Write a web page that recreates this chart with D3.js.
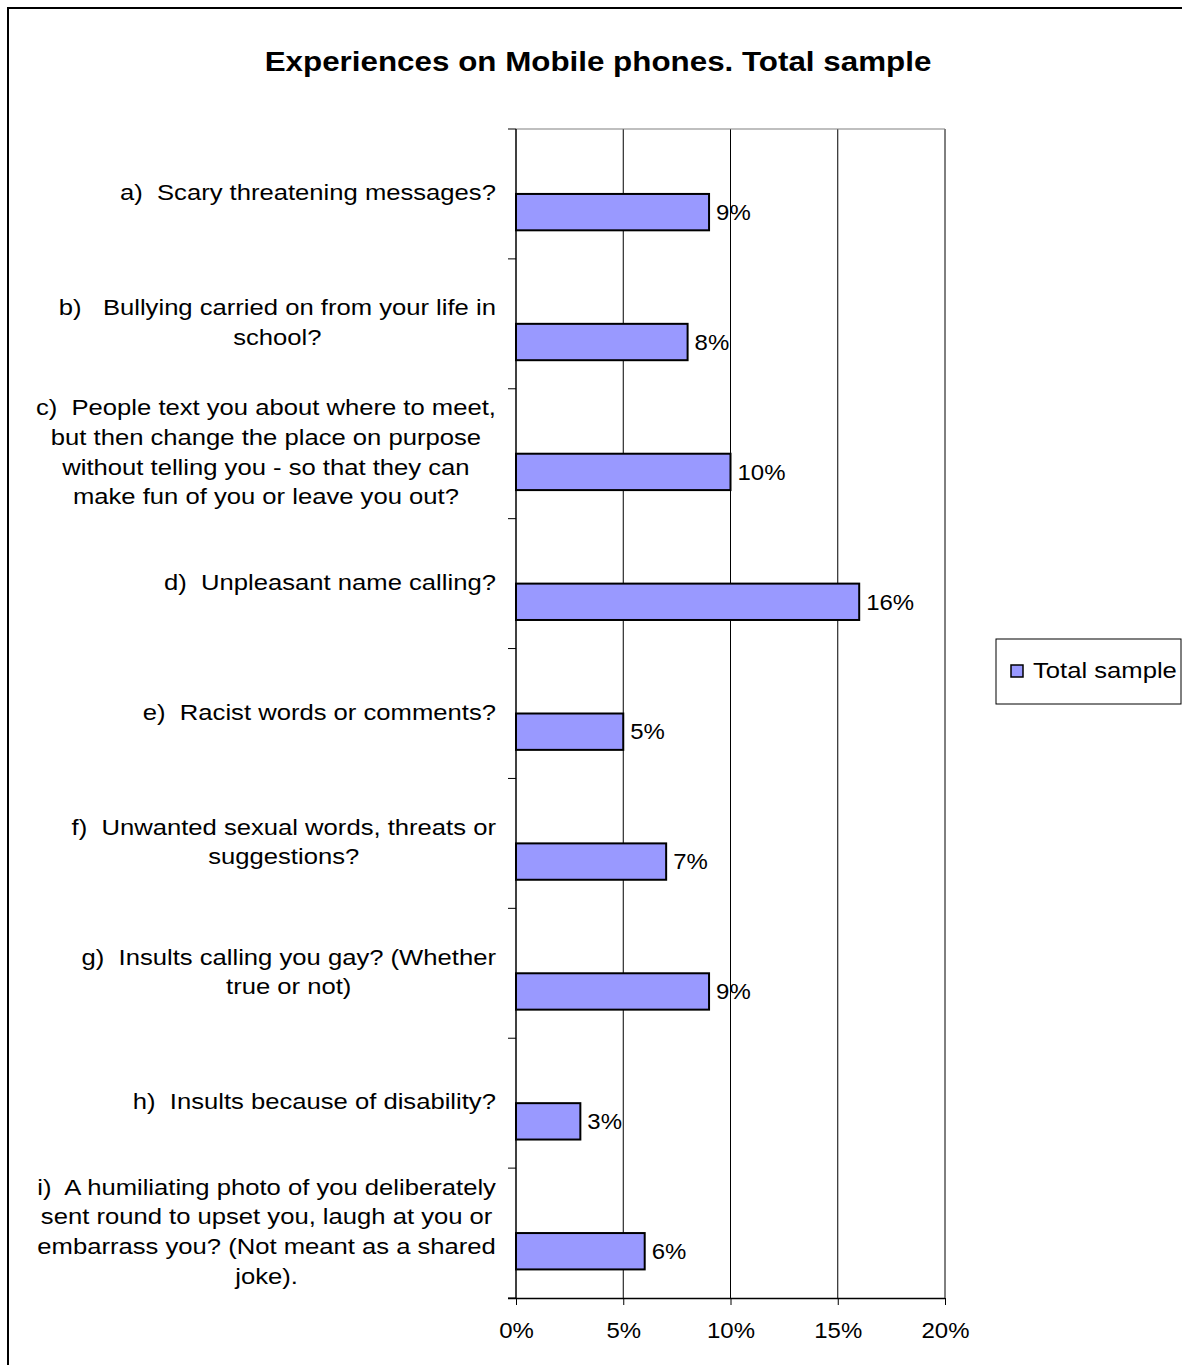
<!DOCTYPE html>
<html>
<head>
<meta charset="utf-8">
<script src="https://cdn.jsdelivr.net/npm/d3@7"></script>
<style>
  html, body { margin: 0; padding: 0; background: #fff; }
  svg { display: block; font-family: "Liberation Sans", Arial, sans-serif; }
</style>
</head>
<body>
<svg id="chart" width="1182" height="1365"></svg>
<script>
// Survey items (multi-line labels split on "|")
const categories = [
  "a)  Scary threatening messages?",
  "b)   Bullying carried on from your life in|school?",
  "c)  People text you about where to meet,|but then change the place on purpose|without telling you - so that they can|make fun of you or leave you out?",
  "d)  Unpleasant name calling?",
  "e)  Racist words or comments?",
  "f)  Unwanted sexual words, threats or|suggestions?",
  "g)  Insults calling you gay? (Whether|true or not)",
  "h)  Insults because of disability?",
  "i)  A humiliating photo of you deliberately|sent round to upset you, laugh at you or|embarrass you? (Not meant as a shared|joke)."
];
const values = [0.09, 0.08, 0.10, 0.16, 0.05, 0.07, 0.09, 0.03, 0.06];
const valueLabels = ["9%", "8%", "10%", "16%", "5%", "7%", "9%", "3%", "6%"];
const xTicks = [0, 0.05, 0.10, 0.15, 0.20];
const seriesName = "Total sample";
const chartTitle = "Experiences on Mobile phones. Total sample";

const svg = d3.select("#chart");
const fontSize = 22;
const wideLabel = 1.165;  // horizontal stretch of the wide label face
const wideNum = 1.09;

// Outer frame of the chart area
svg.append("rect")
  .attr("x", 8).attr("y", 8)
  .attr("width", 1200).attr("height", 1400)
  .attr("fill", "none").attr("stroke", "#000").attr("stroke-width", 2);

// Title
svg.append("text")
  .attr("transform", "translate(598,71) scale(1.12,1)")
  .attr("text-anchor", "middle")
  .attr("font-size", 28).attr("font-weight", "bold")
  .text(chartTitle);

const plot = { left: 516, right: 945, top: 129, bottom: 1298 };

const x = d3.scaleLinear().domain([0, 0.2]).range([plot.left, plot.right]);
const y = d3.scaleBand().domain(categories).range([plot.top, plot.bottom]).padding(0);
const bw = y.bandwidth();

// Vertical gridlines
svg.append("g")
  .selectAll("line")
  .data(xTicks.slice(1))
  .join("line")
  .attr("x1", d => x(d)).attr("x2", d => x(d))
  .attr("y1", plot.top).attr("y2", plot.bottom)
  .attr("stroke", "#000").attr("stroke-width", 1);

// Plot area top edge
svg.append("line")
  .attr("x1", plot.left).attr("x2", plot.right)
  .attr("y1", plot.top).attr("y2", plot.top)
  .attr("stroke", "#808080").attr("stroke-width", 1.2);

// Bars
svg.append("g")
  .selectAll("rect")
  .data(categories)
  .join("rect")
  .attr("x", x(0))
  .attr("y", d => y(d) + bw * 0.5)
  .attr("width", (d, i) => x(values[i]) - x(0))
  .attr("height", bw * 0.28)
  .attr("fill", "#9999FF")
  .attr("stroke", "#000").attr("stroke-width", 2);

// Value labels
svg.append("g")
  .selectAll("text")
  .data(categories)
  .join("text")
  .attr("transform", (d, i) => `translate(${x(values[i]) + 7},${y(d) + bw * 0.64}) scale(${wideNum},1)`)
  .attr("dy", "0.35em")
  .attr("font-size", fontSize)
  .text((d, i) => valueLabels[i]);

// Category axis (left)
const yAxisG = svg.append("g");
yAxisG.append("line")
  .attr("x1", plot.left).attr("x2", plot.left)
  .attr("y1", plot.top).attr("y2", plot.bottom)
  .attr("stroke", "#000").attr("stroke-width", 1.5);
const boundaries = categories.map(c => y(c)).concat([plot.bottom]);
yAxisG.selectAll("line.tick")
  .data(boundaries)
  .join("line")
  .attr("class", "tick")
  .attr("x1", plot.left - 8).attr("x2", plot.left)
  .attr("y1", d => d).attr("y2", d => d)
  .attr("stroke", "#000").attr("stroke-width", 1);

// Category labels: lines centred on each other, block right-aligned
const lineH = 29.7;
const labelRight = 496;
categories.forEach(c => {
  const lines = c.split("|");
  const g = svg.append("g");
  const texts = lines.map((ln, k) => {
    const t = g.append("text")
      .attr("font-size", fontSize)
      .attr("dy", "0.35em")
      .attr("text-anchor", "middle")
      .attr("xml:space", "preserve")
      .style("white-space", "pre")
      .text(ln);
    t.datum(y(c) + bw / 2 - 1.5 + (k - (lines.length - 1) / 2) * lineH);
    return t;
  });
  const maxW = d3.max(texts, t => t.node().getComputedTextLength()) * wideLabel;
  texts.forEach(t => t.attr("transform", d => `translate(${labelRight - maxW / 2},${d}) scale(${wideLabel},1)`));
});

// Value axis (bottom)
const xAxis = d3.axisBottom(x)
  .tickValues(xTicks)
  .tickFormat(d3.format(".0%"))
  .tickSize(7)
  .tickPadding(17);
const xg = svg.append("g")
  .attr("transform", `translate(0,${plot.bottom})`)
  .call(xAxis);
xg.select(".domain")
  .attr("d", `M${plot.left - 8},0.5H${plot.right}`)
  .attr("stroke", "#000").attr("stroke-width", 1.5);
xg.selectAll(".tick line").attr("stroke", "#000");
xg.selectAll(".tick text")
  .attr("font-size", fontSize)
  .attr("font-family", "Liberation Sans, Arial, sans-serif")
  .attr("fill", "#000")
  .attr("transform", `scale(${wideNum},1)`);

// Legend
const lg = svg.append("g");
lg.append("rect")
  .attr("x", 996).attr("y", 639).attr("width", 185).attr("height", 65)
  .attr("fill", "#fff").attr("stroke", "#000").attr("stroke-width", 1);
lg.append("rect")
  .attr("x", 1011).attr("y", 665).attr("width", 12).attr("height", 12)
  .attr("fill", "#9999FF").attr("stroke", "#000").attr("stroke-width", 1.5);
lg.append("text")
  .attr("transform", `translate(1033,670) scale(${wideLabel},1)`)
  .attr("dy", "0.35em")
  .attr("font-size", fontSize)
  .text(seriesName);
</script>
</body>
</html>
